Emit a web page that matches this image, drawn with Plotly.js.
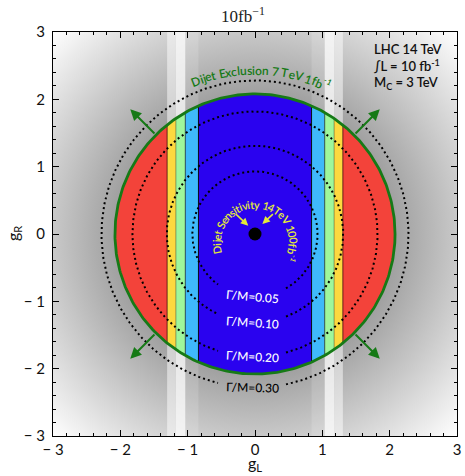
<!DOCTYPE html>
<html><head><meta charset="utf-8">
<script src="https://cdn.plot.ly/plotly-3.0.1.min.js"></script>
<style>html,body{margin:0;padding:0;background:#fff;}#chart{width:465px;height:476px;}</style>
</head><body>
<div id="chart"></div>
<script>
// ---------- data ----------
const xTickVals = [-3, -2, -1, 0, 1, 2, 3];
const xTickText = ['− 3', '− 2', '− 1', '0', '1', '2', '3'];
const yTickVals = [-3, -2, -1, 0, 1, 2, 3];
const yTickText = ['− 3', '− 2', '− 1', '0', '1', '2', '3'];
const stripeEdges = [-1.305, -1.175, -1.035, -0.84, 0.84, 1.035, 1.175, 1.305];
const stripeColors = ['#f3433a', '#fdd93f', '#9ff79c', '#3fb9fb', '#2a02ef', '#3fb9fb', '#9ff79c', '#fdd93f', '#f3433a'];
const edgeLineColors = ['rgba(60,0,0,0.75)', 'rgba(0,0,0,0.35)', 'rgba(0,0,0,0.6)', 'rgba(0,0,0,0.9)', 'rgba(0,0,0,0.9)', 'rgba(0,0,0,0.6)', 'rgba(0,0,0,0.35)', 'rgba(60,0,0,0.75)'];
const bandOpacity = [0.5, 0.75, 0.15, 0, 0.15, 0.75, 0.5];
const exclusionRadius = 2.08;
const widthRadii = [0.93, 1.31, 1.82, 2.28];
const widthLabels = ['Γ/M=0.05', 'Γ/M=0.10', 'Γ/M=0.20', 'Γ/M=0.30'];
const widthLabelColors = ['#ffffff', '#ffffff', '#ffffff', '#000000'];
const widthLabelTilt = [5, 4, 3, 1.5];
const arrowAngles = [45, 135, 225, 315];
const infoLines = ['LHC 14 TeV', '∫L = 10 fb<sup>-1</sup>', 'M<sub>C</sub> = 3 TeV'];
const exclusionText = 'Dijet Exclusion 7 TeV 1fb';
const sensitivityText = 'Dijet Sensitivity 14TeV 100fb';
const supText = '-1';
const xTitle = 'g<sub>L</sub>';
const yTitle = 'g<sub>R</sub>';

// ---------- helpers ----------
const PX = 404 / 6;
const FAM = "Lato, 'Open Sans', sans-serif";
const GREEN = '#167a16';
const YEL = '#e4ea3a';
const canvas = document.createElement('canvas');
const ctx = canvas.getContext('2d');
function tw(t, size, weight) { ctx.font = weight + ' ' + size + 'px Lato'; return ctx.measureText(t).width; }

function diskStripe(a, b, R) {
  a = Math.max(a, -R); b = Math.min(b, R);
  const ta = Math.acos(a / R), tb = Math.acos(b / R);
  const xs = [], ys = [], n = 90;
  for (let i = 0; i <= n; i++) { const t = ta + (tb - ta) * i / n; xs.push(R * Math.cos(t)); ys.push(R * Math.sin(t)); }
  for (let i = 0; i <= n; i++) { const t = -tb + (tb - ta) * i / n; xs.push(R * Math.cos(t)); ys.push(R * Math.sin(t)); }
  return { xs, ys };
}

function curved(chars, cx, cy, Rpx, centerDeg, dir, color) {
  const ws = chars.map(c => tw(c.t, c.size, c.weight));
  const W = ws.reduce((a, b) => a + b, 0);
  const start = centerDeg * Math.PI / 180 + dir * (W / 2) / Rpx;
  let s = 0; const out = [];
  chars.forEach((c, i) => {
    const mid = s + ws[i] / 2; s += ws[i];
    if (c.t === ' ') return;
    const th = start - dir * mid / Rpx;
    const R = Rpx + (c.rise || 0) * dir;
    const deg = th * 180 / Math.PI;
    out.push({
      x: cx + R * Math.cos(th) / PX, y: cy + R * Math.sin(th) / PX, xref: 'x', yref: 'y',
      text: c.t, showarrow: false, xanchor: 'center', yanchor: 'middle',
      textangle: dir > 0 ? 90 - deg : -(deg + 90),
      font: { family: FAM, size: c.size, color: color, weight: c.weight }
    });
  });
  return out;
}

// ---------- traces ----------
const traces = [];
const R = exclusionRadius;
for (let i = 0; i < stripeEdges.length - 1; i++) {
  if (bandOpacity[i] > 0) {
    const a = stripeEdges[i], b = stripeEdges[i + 1];
    traces.push({ x: [a, b, b, a, a], y: [-3, -3, 3, 3, -3], mode: 'lines', fill: 'toself',
      fillcolor: 'rgba(255,255,255,' + bandOpacity[i] + ')', line: { width: 0 }, hoverinfo: 'skip' });
  }
}
const allEdges = [-R].concat(stripeEdges, [R]);
for (let i = 0; i < stripeColors.length; i++) {
  const p = diskStripe(allEdges[i], allEdges[i + 1], R);
  traces.push({ x: p.xs, y: p.ys, mode: 'lines', fill: 'toself', fillcolor: stripeColors[i], line: { width: 0 }, hoverinfo: 'skip' });
}
stripeEdges.forEach((e, i) => {
  const h = Math.sqrt(R * R - e * e);
  traces.push({ x: [e, e], y: [-h, h], mode: 'lines', line: { color: edgeLineColors[i], width: 1 }, hoverinfo: 'skip' });
});
const gapL = -37 / PX, gapR = 31 / PX;
widthRadii.forEach(r => {
  const tR = -Math.acos(gapR / r), tL = -Math.acos(gapL / r) + 2 * Math.PI;
  const xs = [], ys = [], n = 400;
  for (let i = 0; i <= n; i++) { const t = tR + (tL - tR) * i / n; xs.push(r * Math.cos(t)); ys.push(r * Math.sin(t)); }
  traces.push({ x: xs, y: ys, mode: 'lines', line: { color: '#000', width: 2, dash: '2px,3px' }, hoverinfo: 'skip' });
});
{
  const xs = [], ys = [];
  for (let i = 0; i <= 360; i++) { const t = i * Math.PI / 180; xs.push(R * Math.cos(t)); ys.push(R * Math.sin(t)); }
  traces.push({ x: xs, y: ys, mode: 'lines', line: { color: GREEN, width: 2.8 }, hoverinfo: 'skip' });
}
traces.push({ x: [0], y: [0], mode: 'markers', marker: { color: '#000', size: 13 }, hoverinfo: 'skip' });

const svg = "<svg xmlns='http://www.w3.org/2000/svg' width='404' height='404' viewBox='0 0 404 404'><defs><radialGradient id='g' cx='202' cy='202' r='286' gradientUnits='userSpaceOnUse'><stop offset='0' stop-color='#a0a0a0'/><stop offset='0.49' stop-color='#a0a0a0'/><stop offset='1' stop-color='#ffffff'/></radialGradient></defs><rect width='404' height='404' fill='url(#g)'/></svg>";
const bgUri = 'data:image/svg+xml;charset=utf-8,' + encodeURIComponent(svg);

const ann = [];
arrowAngles.forEach(a => {
  const t = a * Math.PI / 180;
  ann.push({ x: 2.62 * Math.cos(t), y: 2.62 * Math.sin(t), ax: R * Math.cos(t), ay: R * Math.sin(t), xref: 'x', yref: 'y', axref: 'x', ayref: 'y',
    text: '', showarrow: true, arrowhead: 2, arrowsize: 1.1, arrowwidth: 2, arrowcolor: GREEN });
});
ann.push({ x: -0.1, y: 0.123, ax: -0.306, ay: 0.316, xref: 'x', yref: 'y', axref: 'x', ayref: 'y', text: '', showarrow: true, arrowhead: 2, arrowsize: 1, arrowwidth: 1.5, arrowcolor: YEL });
ann.push({ x: 0.11, y: 0.149, ax: 0.288, ay: 0.316, xref: 'x', yref: 'y', axref: 'x', ayref: 'y', text: '', showarrow: true, arrowhead: 2, arrowsize: 1, arrowwidth: 1.5, arrowcolor: YEL });

widthLabels.forEach((lab, i) => {
  ann.push({ x: -0.04, y: -widthRadii[i], xref: 'x', yref: 'y', text: lab, showarrow: false, textangle: widthLabelTilt[i],
    xanchor: 'center', yanchor: 'middle', font: { family: FAM, size: 12, color: widthLabelColors[i], weight: 500 } });
});
const infoY = [2.75, 2.5, 2.24];
infoLines.forEach((t, i) => {
  ann.push({ x: 1.74, y: infoY[i], xref: 'x', yref: 'y', text: t, showarrow: false, xanchor: 'left', yanchor: 'middle',
    font: { family: FAM, size: 13, color: '#111', weight: 600 } });
});
const exChars = exclusionText.split('').map(t => ({ t, size: 12, weight: 600 })).concat(supText.split('').map(t => ({ t, size: 8, weight: 600, rise: 5 })));
ann.push(...curved(exChars, 0, 0, 164, 88, 1, GREEN));
const seChars = sensitivityText.split('').map(t => ({ t, size: 11, weight: 600 })).concat(supText.split('').map(t => ({ t, size: 7, weight: 600, rise: 4 })));
ann.push(...curved(seChars, 0, -0.126, 38.5, 85, 1, YEL));
// axis titles
ann.push({ x: 0.5, y: (436 - 463) / 404, xref: 'paper', yref: 'paper', text: xTitle, showarrow: false, xanchor: 'center', yanchor: 'middle', borderpad: 0,
  font: { family: FAM, size: 16, color: '#111' } });
ann.push({ x: (13 - 53) / 404, y: 0.5, xref: 'paper', yref: 'paper', text: yTitle, showarrow: false, xanchor: 'center', yanchor: 'middle', textangle: -90, borderpad: 0,
  font: { family: FAM, size: 16, color: '#111' } });

function alias(vals, texts) { const o = {}; vals.forEach((v, i) => { if (v < 0) o['−' + Math.abs(v)] = texts[i]; }); return o; }
const axisCommon = {
  range: [-3, 3], tickmode: 'linear', tick0: 0, dtick: 1, ticks: 'inside', ticklen: 6, tickwidth: 1, tickcolor: '#000',
  minor: { ticks: 'inside', ticklen: 3, tickwidth: 1, tickcolor: '#000', tick0: 0, dtick: 0.2 },
  mirror: 'allticks', showline: true, linecolor: '#000', linewidth: 1, showgrid: false, zeroline: false,
  tickfont: { family: FAM, size: 15, color: '#111' }, fixedrange: true
};
const layout = {
  width: 465, height: 476, margin: { l: 53, r: 8, t: 32, b: 40 },
  paper_bgcolor: '#ffffff', plot_bgcolor: '#ffffff', showlegend: false,
  title: { text: '10fb<sup>−1</sup>', font: { family: "'Liberation Serif', serif", size: 17, color: '#222' },
    x: 243 / 465, xref: 'container', xanchor: 'center', y: 1 - 16 / 476, yref: 'container', yanchor: 'middle' },
  xaxis: Object.assign({}, axisCommon, { labelalias: alias(xTickVals, xTickText), ticklabelstandoff: 0 }),
  yaxis: Object.assign({}, axisCommon, { labelalias: alias(yTickVals, yTickText), ticklabelstandoff: 4 }),
  images: [{ source: bgUri, xref: 'x', yref: 'y', x: -3, y: 3, sizex: 6, sizey: 6, sizing: 'stretch', layer: 'below', xanchor: 'left', yanchor: 'top' }],
  annotations: ann
};
Plotly.newPlot('chart', traces, layout, { displayModeBar: false, staticPlot: true });
</script>
</body></html>
